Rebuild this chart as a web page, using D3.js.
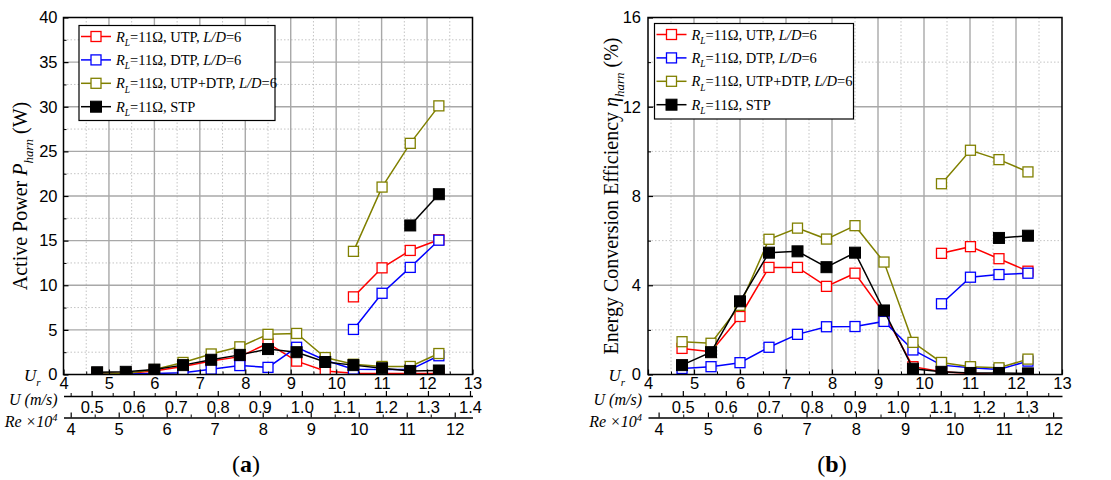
<!DOCTYPE html>
<html>
<head>
<meta charset="utf-8">
<script src="https://cdn.jsdelivr.net/npm/d3@7"></script>
<style>
  body { margin: 0; background: #fff; }
  svg { display: block; }
</style>
</head>
<body>
<svg id="fig" width="1111" height="480"></svg>
<script>
// Reduced velocity sweep U_r shared by every series
const urPoints = [4.74, 5.37, 6.0, 6.63, 7.25, 7.88, 8.5, 9.13, 9.76, 10.38, 11.01, 11.63, 12.26];
// The upper (high-response) branch starts at this sweep index
const upperFrom = 9;
const stpUpperFrom = 11;

// Series names and colours
const seriesNames = ["UTP", "DTP", "UTP+DTP", "STP"];
const seriesColors = ["#ff0000", "#0000ff", "#808000", "#000000"];

// (a) Active power P_harn (W) – lower branch over the full sweep
const powerUTP     = [0.15, 0.1, 0.4, 0.9, 1.5, 2.0, 3.5, 1.5, 0.4, 0.15, 0.1, 0.1, 0.1];
const powerDTP     = [0.02, 0.05, 0.1, 0.2, 0.6, 1.0, 0.8, 3.05, 1.6, 0.6, 0.55, 0.55, 2.1];
const powerUTPDTP  = [0.2, 0.1, 0.55, 1.35, 2.3, 3.1, 4.5, 4.6, 1.9, 1.15, 0.9, 0.9, 2.35];
const powerSTP     = [0.25, 0.3, 0.55, 1.05, 1.65, 2.2, 2.85, 2.5, 1.4, 1.05, 0.7, 0.4, 0.45];
// (a) upper branch
const powerUTPUp    = [8.7, 11.95, 13.9, 15.1];
const powerDTPUp    = [5.05, 9.1, 12.0, 15.05];
const powerUTPDTPUp = [13.8, 21.0, 25.9, 30.1];
const powerSTPUp    = [16.7, 20.2];

// (b) Energy conversion efficiency eta_harn (%) – lower branch
const etaUTP     = [1.17, 1.02, 2.6, 4.8, 4.8, 3.95, 4.54, 2.75, 0.35, 0.12, 0.05, 0.0, 0.0];
const etaDTP     = [0.27, 0.35, 0.53, 1.22, 1.8, 2.14, 2.15, 2.38, 1.1, 0.42, 0.3, 0.22, 0.6];
const etaUTPDTP  = [1.47, 1.4, 3.1, 6.06, 6.56, 6.07, 6.67, 5.04, 1.44, 0.54, 0.35, 0.3, 0.69];
const etaSTP     = [0.42, 1.0, 3.28, 5.46, 5.52, 4.81, 5.46, 2.87, 0.26, 0.12, 0.07, 0.07, 0.05];
// (b) upper branch
const etaUTPUp    = [5.43, 5.73, 5.19, 4.63];
const etaDTPUp    = [3.17, 4.36, 4.48, 4.54];
const etaUTPDTPUp = [8.55, 10.05, 9.63, 9.08];
const etaSTPUp    = [6.12, 6.22];

// Axis tick values
const urTicks = [4, 5, 6, 7, 8, 9, 10, 11, 12, 13];
const uTicksA = [0.5, 0.6, 0.7, 0.8, 0.9, 1.0, 1.1, 1.2, 1.3, 1.4];
const uTicksB = [0.5, 0.6, 0.7, 0.8, 0.9, 1.0, 1.1, 1.2, 1.3];
const reTicks = [4, 5, 6, 7, 8, 9, 10, 11, 12];
const powerTicks = [0, 5, 10, 15, 20, 25, 30, 35, 40];
const etaTicks = [0, 4, 8, 12, 16];

const SERIF = "'Liberation Serif', 'Times New Roman', serif";
const SANS = "'Liberation Sans', Arial, sans-serif";

const svg = d3.select("#fig");

// Write mixed italic / subscript / superscript runs into a <text>
function richText(sel, parts, size) {
  let shift = 0;
  parts.forEach(p => {
    const ts = sel.append("tspan").text(p.t);
    if (p.i) ts.attr("font-style", "italic");
    if (p.b) ts.attr("font-weight", "bold");
    let target = 0;
    if (p.sub) { target = size * 0.3; ts.attr("font-size", size * 0.65); }
    if (p.sup) { target = -size * 0.4; ts.attr("font-size", size * 0.65); }
    if (target !== shift) { ts.attr("dy", target - shift); shift = target; }
  });
}

function drawPanel(cfg) {
  const g = svg.append("g");
  const { x0, x1, y0, y1 } = cfg;
  const x = d3.scaleLinear().domain([4, 13]).range([x0, x1]);
  const y = d3.scaleLinear().domain([0, cfg.yMax]).range([y1, y0]);
  const u = d3.scaleLinear().domain(cfg.uDomain).range([x0, x1]);
  const re = d3.scaleLinear().domain(cfg.reDomain).range([x0, x1]);

  // grid: dotted minor, solid major
  const grid = g.append("g");
  const xMinor = d3.range(4.5, 13, 1);
  const xMajor = d3.range(5, 13, 1);
  const yMinor = cfg.yTicks.slice(0, -1).map((v, i) => (v + cfg.yTicks[i + 1]) / 2);
  const yMajor = cfg.yTicks.slice(1, -1);
  grid.selectAll(".vminor").data(xMinor).join("line")
    .attr("x1", d => x(d)).attr("x2", d => x(d)).attr("y1", y0).attr("y2", y1)
    .attr("stroke", "#c4c4c4").attr("stroke-width", 1).attr("stroke-dasharray", "1.5,2");
  grid.selectAll(".hminor").data(yMinor).join("line")
    .attr("x1", x0).attr("x2", x1).attr("y1", d => y(d)).attr("y2", d => y(d))
    .attr("stroke", "#c4c4c4").attr("stroke-width", 1).attr("stroke-dasharray", "1.5,2");
  grid.selectAll(".vmajor").data(xMajor).join("line")
    .attr("x1", d => x(d)).attr("x2", d => x(d)).attr("y1", y0).attr("y2", y1)
    .attr("stroke", "#a8a8a8").attr("stroke-width", 1.4);
  grid.selectAll(".hmajor").data(yMajor).join("line")
    .attr("x1", x0).attr("x2", x1).attr("y1", d => y(d)).attr("y2", d => y(d))
    .attr("stroke", "#a8a8a8").attr("stroke-width", 1.4);

  // data, clipped to the frame
  const clipId = "clip-" + cfg.tag;
  svg.append("defs").append("clipPath").attr("id", clipId)
    .append("rect").attr("x", x0).attr("y", y0).attr("width", x1 - x0).attr("height", y1 - y0);
  const plot = g.append("g").attr("clip-path", `url(#${clipId})`);
  const line = d3.line().x(d => x(d[0])).y(d => y(d[1]));

  cfg.series.forEach((s, k) => {
    const color = seriesColors[k];
    const filled = seriesNames[k] === "STP";
    const lower = urPoints.map((ur, i) => [ur, s.lower[i]]);
    const upper = s.upper.map((v, i) => [urPoints[s.from + i], v]);
    [lower, upper].forEach(pts => {
      plot.append("path").datum(pts).attr("d", line)
        .attr("fill", "none").attr("stroke", color).attr("stroke-width", 1.5);
      const m = filled ? 11 : 10;
      plot.append("g").selectAll("rect").data(pts).join("rect")
        .attr("x", d => x(d[0]) - m / 2).attr("y", d => y(d[1]) - m / 2)
        .attr("width", m).attr("height", m)
        .attr("fill", filled ? "#000" : "#fff")
        .attr("stroke", color).attr("stroke-width", filled ? 1 : 1.3);
    });
  });

  // frame
  g.append("rect").attr("x", x0).attr("y", y0).attr("width", x1 - x0).attr("height", y1 - y0)
    .attr("fill", "none").attr("stroke", "#000").attr("stroke-width", 1.5);

  // left axis (ticks pointing inward)
  const yAxis = g.append("g").attr("transform", `translate(${x0},0)`)
    .call(d3.axisLeft(y).tickValues(cfg.yTicks).tickSize(-5).tickPadding(cfg.yPad).tickFormat(d3.format("d")));
  g.append("g").attr("transform", `translate(${x0},0)`)
    .call(d3.axisLeft(y).tickValues(yMinor).tickSize(-3).tickFormat(""))
    .select(".domain").remove();

  // U_r axis on the frame bottom
  const urAxis = g.append("g").attr("transform", `translate(0,${y1})`)
    .call(d3.axisBottom(x).tickValues(urTicks).tickSize(-5).tickPadding(3).tickFormat(d3.format("d")));
  g.append("g").attr("transform", `translate(0,${y1})`)
    .call(d3.axisBottom(x).tickValues(xMinor).tickSize(-3).tickFormat(""))
    .select(".domain").remove();

  // U (m/s) axis
  const uY = 396;
  const uAxis = g.append("g").attr("transform", `translate(0,${uY})`)
    .call(d3.axisBottom(u).tickValues(cfg.uTicks).tickSize(-5).tickSizeOuter(0).tickPadding(5).tickFormat(d3.format(".1f")));
  const uMinor = d3.range(Math.ceil(cfg.uDomain[0] * 20) / 20, cfg.uDomain[1], 0.1).filter(v => Math.abs(v * 10 - Math.round(v * 10)) > 0.1);
  g.append("g").attr("transform", `translate(0,${uY})`)
    .call(d3.axisBottom(u).tickValues(uMinor).tickSize(-3).tickFormat(""))
    .select(".domain").remove();

  // Re x 10^4 axis
  const reY = 417.5;
  const reAxis = g.append("g").attr("transform", `translate(0,${reY})`)
    .call(d3.axisBottom(re).tickValues(reTicks).tickSize(-5).tickSizeOuter(0).tickPadding(6).tickFormat(d3.format("d")));
  g.append("g").attr("transform", `translate(0,${reY})`)
    .call(d3.axisBottom(re).tickValues(d3.range(4.5, cfg.reDomain[1], 1)).tickSize(-3).tickFormat(""))
    .select(".domain").remove();

  [yAxis, urAxis, uAxis, reAxis].forEach(a => {
    a.selectAll("text").attr("font-family", SANS).attr("font-size", 16.5).attr("fill", "#000");
    a.selectAll("line").attr("stroke", "#000").attr("stroke-width", 1.2);
    a.select(".domain").attr("stroke", "#000").attr("stroke-width", 1.5);
  });
  urAxis.select(".domain").remove();
  yAxis.select(".domain").remove();

  // row titles at left of the three horizontal axes
  const rowX = x0 - 6;
  richText(g.append("text").attr("x", x0 - 23).attr("y", 381).attr("text-anchor", "end")
    .attr("font-family", SERIF).attr("font-size", 17), [{ t: "U", i: 1 }, { t: "r", i: 1, sub: 1 }], 17);
  richText(g.append("text").attr("x", rowX).attr("y", 405).attr("text-anchor", "end")
    .attr("font-family", SERIF).attr("font-size", 16), [{ t: "U (m/s)", i: 1 }], 16);
  richText(g.append("text").attr("x", rowX).attr("y", 427).attr("text-anchor", "end")
    .attr("font-family", SERIF).attr("font-size", 16),
    [{ t: "Re", i: 1 }, { t: " \u00d710", i: 1 }, { t: "4", i: 1, sup: 1 }], 16);

  // y title
  richText(g.append("text")
    .attr("transform", `translate(${cfg.yTitleX},${cfg.yTitleY}) rotate(-90)`)
    .attr("text-anchor", "middle").attr("font-family", SERIF).attr("font-size", 20),
    cfg.yTitle, 20);

  // legend
  const L = cfg.legend;
  g.append("rect").attr("x", L.x).attr("y", L.y).attr("width", L.w).attr("height", L.h)
    .attr("fill", "#fff").attr("stroke", "#000").attr("stroke-width", 1.2);
  seriesNames.forEach((name, k) => {
    const cy = L.y + 11 + k * 23.4;
    const color = seriesColors[k];
    const filled = name === "STP";
    g.append("line").attr("x1", L.x + 2).attr("x2", L.x + 32).attr("y1", cy).attr("y2", cy)
      .attr("stroke", color).attr("stroke-width", 1.5);
    const m = filled ? 11 : 10;
    g.append("rect").attr("x", L.x + 17 - m / 2).attr("y", cy - m / 2).attr("width", m).attr("height", m)
      .attr("fill", filled ? "#000" : "#fff").attr("stroke", color).attr("stroke-width", filled ? 1 : 1.3);
    const parts = [{ t: "R", i: 1 }, { t: "L", i: 1, sub: 1 }, { t: "=11\u03a9, " + name }];
    if (!filled) parts.push({ t: ", " }, { t: "L/D", i: 1 }, { t: "=6" });
    richText(g.append("text").attr("x", L.x + 37).attr("y", cy + 5)
      .attr("font-family", SERIF).attr("font-size", 14.5), parts, 14.5);
  });

  // panel tag
  richText(g.append("text").attr("x", cfg.tagX).attr("y", 472).attr("text-anchor", "middle")
    .attr("font-family", SERIF).attr("font-size", 24),
    [{ t: "(" }, { t: cfg.tag, b: 1 }, { t: ")" }], 24);
}

drawPanel({
  tag: "a", tagX: 246,
  x0: 63.5, x1: 472.5, y0: 17.5, y1: 374.5,
  yMax: 40, yTicks: powerTicks, yPad: 6,
  uDomain: [0.433, 1.406], uTicks: uTicksA,
  reDomain: [3.85, 12.37],
  yTitleX: 27, yTitleY: 196,
  yTitle: [{ t: "Active Power " }, { t: "P", i: 1 }, { t: "harn", i: 1, sub: 1 }, { t: " (W)" }],
  legend: { x: 79, y: 25.5, w: 196, h: 95 },
  series: [
    { lower: powerUTP, upper: powerUTPUp, from: upperFrom },
    { lower: powerDTP, upper: powerDTPUp, from: upperFrom },
    { lower: powerUTPDTP, upper: powerUTPDTPUp, from: upperFrom },
    { lower: powerSTP, upper: powerSTPUp, from: stpUpperFrom }
  ]
});

drawPanel({
  tag: "b", tagX: 832,
  x0: 648, x1: 1062, y0: 17.5, y1: 374.5,
  yMax: 16, yTicks: etaTicks, yPad: 7,
  uDomain: [0.419, 1.382], uTicks: uTicksB,
  reDomain: [3.785, 12.18],
  yTitleX: 618, yTitleY: 196,
  yTitle: [{ t: "Energy Conversion Efficiency " }, { t: "\u03b7", i: 1 }, { t: "harn", i: 1, sub: 1 }, { t: " (%)" }],
  legend: { x: 654.5, y: 23.5, w: 199, h: 95.5 },
  series: [
    { lower: etaUTP, upper: etaUTPUp, from: upperFrom },
    { lower: etaDTP, upper: etaDTPUp, from: upperFrom },
    { lower: etaUTPDTP, upper: etaUTPDTPUp, from: upperFrom },
    { lower: etaSTP, upper: etaSTPUp, from: stpUpperFrom }
  ]
});
</script>
</body>
</html>
